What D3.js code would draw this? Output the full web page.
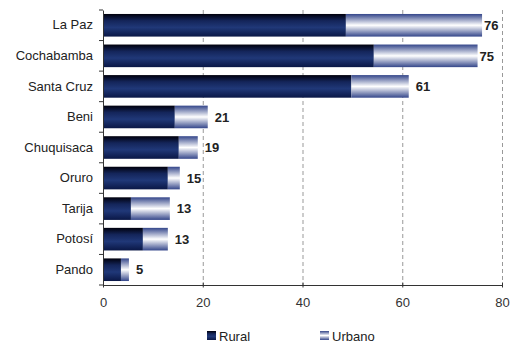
<!DOCTYPE html>
<html><head><meta charset="utf-8">
<script src="https://cdnjs.cloudflare.com/ajax/libs/d3/7.8.5/d3.min.js"></script>
<style>body{margin:0;background:#fff;}svg{display:block;font-family:"Liberation Sans",Arial,sans-serif;}</style>
</head><body>
<svg id="chart" width="512" height="344"></svg>
<script>
var depts=['La Paz','Cochabamba','Santa Cruz','Beni','Chuquisaca','Oruro','Tarija','Potosí','Pando'];
var rural=[48.7,54.3,49.8,14.4,15.2,13.0,5.6,8.0,3.6];
var urbano=[27.3,20.8,11.5,6.6,3.8,2.4,7.8,5.0,1.6];
var totals=[76,75,61,21,19,15,13,13,5];
var xTicks=[0,20,40,60,80];
var seriesNames=['Rural','Urbano'];

var FONT='"Liberation Sans",Arial,sans-serif';
var svg=d3.select('#chart'),
    m={top:10,left:103,right:10,bottom:59},
    w=+svg.attr('width')-m.left-m.right,
    h=+svg.attr('height')-m.top-m.bottom;
var defs=svg.append('defs');
var gR=defs.append('linearGradient').attr('id','gRural').attr('x1',0).attr('y1',0).attr('x2',0).attr('y2',1);
[[0,'#00000c'],[0.3,'#14255a'],[0.6,'#203878'],[1,'#0a1746']].forEach(function(s){
  gR.append('stop').attr('offset',s[0]).attr('stop-color',s[1]);});
var gU=defs.append('linearGradient').attr('id','gUrb').attr('x1',0).attr('y1',0).attr('x2',0).attr('y2',1);
[[0,'#34468a'],[0.5,'#ffffff'],[1,'#34468a']].forEach(function(s){
  gU.append('stop').attr('offset',s[0]).attr('stop-color',s[1]);});

var x=d3.scaleLinear().domain([0,80]).range([0,399]);
var y=d3.scaleBand().domain(depts).range([0,h]).paddingInner(0.26).paddingOuter(0.13);
var g=svg.append('g').attr('transform','translate('+m.left+','+m.top+')');

// gridlines
g.selectAll('.grid').data(xTicks.slice(1)).enter().append('line')
  .attr('x1',function(d){return x(d)+0.5;}).attr('x2',function(d){return x(d)+0.5;})
  .attr('y1',0).attr('y2',h).attr('stroke','#999').attr('stroke-dasharray','4,3');

var rows=depts.map(function(d,i){return {name:d,r:rural[i],u:urbano[i],t:totals[i]};});
g.selectAll('.rb').data(rows).enter().append('rect')
  .attr('x',0).attr('y',function(d){return y(d.name);})
  .attr('width',function(d){return x(d.r);}).attr('height',y.bandwidth())
  .attr('fill','url(#gRural)');
g.selectAll('.ub').data(rows).enter().append('rect')
  .attr('x',function(d){return x(d.r);}).attr('y',function(d){return y(d.name);})
  .attr('width',function(d){return x(d.r+d.u)-x(d.r);}).attr('height',y.bandwidth())
  .attr('fill','url(#gUrb)');
g.selectAll('.lbl').data(rows).enter().append('text')
  .attr('x',function(d){return x(d.r+d.u)+(d.t>70?2:7);})
  .attr('y',function(d){return y(d.name)+y.bandwidth()/2;}).attr('dy','0.36em')
  .attr('font-size',13).attr('font-weight','bold').attr('fill','#222')
  .attr('font-family',FONT).text(function(d){return d.t;});

// axes
var xa=g.append('g').attr('transform','translate(0,'+h+')')
  .call(d3.axisBottom(x).tickValues(xTicks).tickSize(5).tickSizeOuter(0).tickPadding(8));
xa.attr('font-family',FONT);
xa.selectAll('.tick line').attr('transform','translate(0,-2.5)');
xa.selectAll('text').attr('font-size',13).attr('fill','#333');
xa.select('.domain').attr('stroke','#333');
xa.selectAll('line').attr('stroke','#333');

var ya=g.append('g').call(d3.axisLeft(y).tickSize(0).tickPadding(10));
ya.attr('font-family',FONT);
ya.select('.domain').attr('stroke','#333');
ya.selectAll('text').attr('font-size',13).attr('fill','#222');
var bounds=d3.range(depts.length+1).map(function(i){return i*h/depts.length;});
g.selectAll('.yt').data(bounds).enter().append('line')
  .attr('x1',-4).attr('x2',0).attr('y1',function(d){return d;}).attr('y2',function(d){return d;})
  .attr('stroke','#333');

// legend
var leg=svg.append('g').attr('transform','translate(207,331)');
seriesNames.forEach(function(s,i){
  var lg=leg.append('g').attr('transform','translate('+(i*113)+',0)');
  lg.append('rect').attr('width',9).attr('height',9)
    .attr('fill',i===0?'url(#gRural)':'url(#gUrb)');
  lg.append('text').attr('x',12).attr('y',10).attr('font-size',13).attr('fill','#222')
    .attr('font-family',FONT).text(s);
});
</script>
</body></html>
